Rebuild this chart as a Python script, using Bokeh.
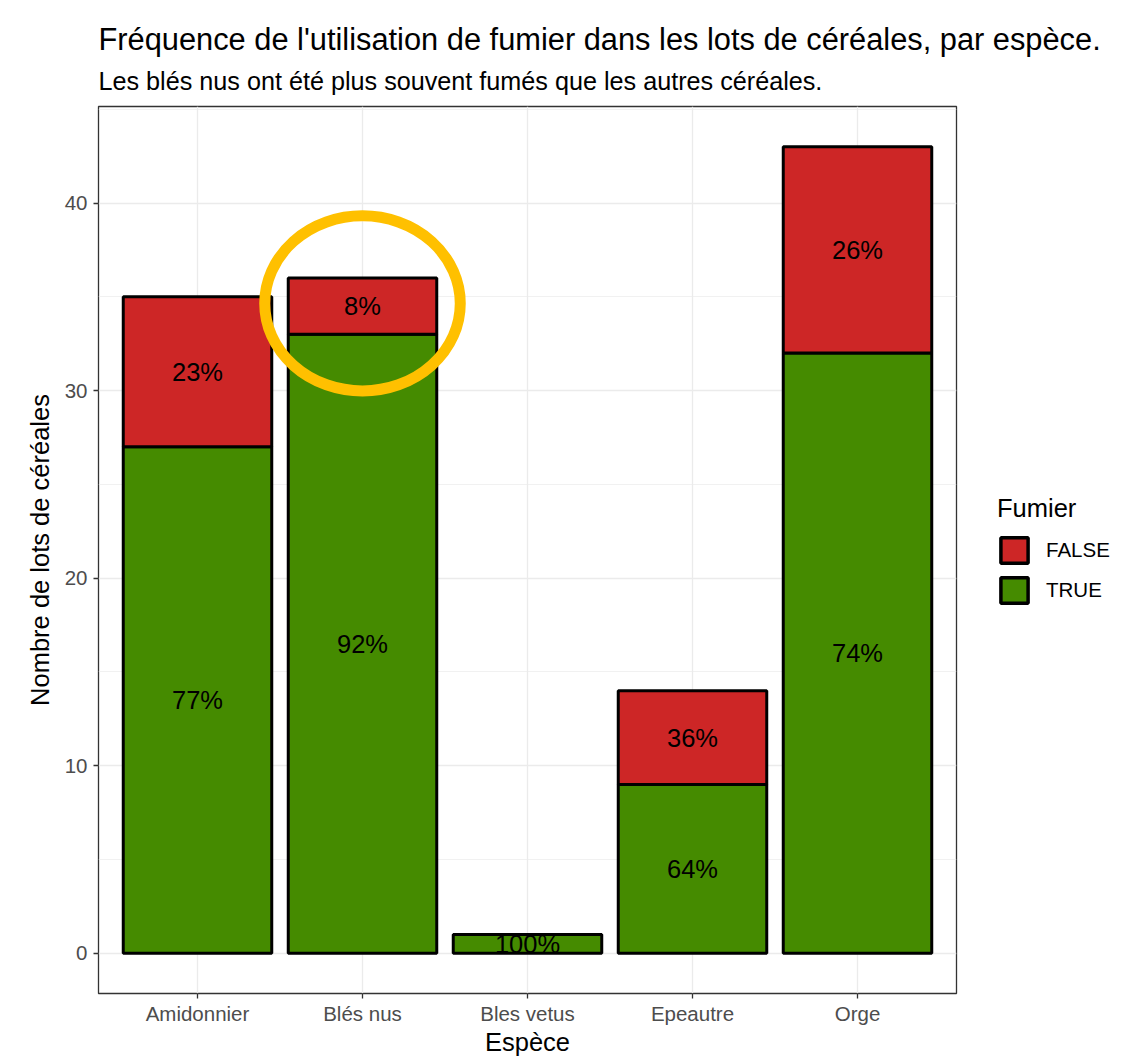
from bokeh.plotting import figure
from bokeh.layouts import row, column
from bokeh.models import (ColumnDataSource, FactorRange, Range1d, FixedTicker,
                          Legend, LegendItem, Title)
from bokeh.core.properties import value
from bokeh.embed import file_html
from bokeh.resources import INLINE

# ---- data ----
species = ["Amidonnier", "Blés nus", "Bles vetus", "Epeautre", "Orge"]
n_true = [27, 33, 1, 9, 32]
n_false = [8, 3, 0, 5, 11]
y_ticks = [0, 10, 20, 30, 40]
y_minor = [5, 15, 25, 35, 45]
legend_labels = ["FALSE", "TRUE"]

title_text = "Fréquence de l'utilisation de fumier dans les lots de céréales, par espèce."
subtitle_text = "Les blés nus ont été plus souvent fumés que les autres céréales."
x_title = "Espèce"
y_title = "Nombre de lots de céréales"
legend_title = "Fumier"

# highlight ellipse around "Blés nus"
hl_cat = "Blés nus"
hl_y = 34.65
hl_w = 1.185
hl_h = 9.34

FONT = "Liberation Sans"
RED = "#CD2626"
GREEN = "#458B00"
W, H = 1125, 1058
HEAD_H = 105
MAIN_W = 958

totals = [t + f for t, f in zip(n_true, n_false)]

src_true = ColumnDataSource(dict(
    x=species, bottom=[0] * len(species), top=n_true,
    mid=[t / 2 for t in n_true],
    lab=[f"{round(100 * t / s)}%" for t, s in zip(n_true, totals)],
))
fx, fb, ft, fm, fl = [], [], [], [], []
for sp, t, f, s in zip(species, n_true, n_false, totals):
    if f > 0:
        fx.append(sp); fb.append(t); ft.append(t + f); fm.append(t + f / 2)
        fl.append(f"{round(100 * f / s)}%")
src_false = ColumnDataSource(dict(x=fx, bottom=fb, top=ft, mid=fm, lab=fl))

# ---------- header with title and subtitle ----------
head = figure(width=W, height=HEAD_H, x_axis_type=None, y_axis_type=None,
              output_backend="svg", toolbar_location=None,
              min_border_left=98, min_border_right=0, min_border_top=103,
              min_border_bottom=0)
head.title = None
head.outline_line_color = None
head.background_fill_color = "white"
head.border_fill_color = "white"
head.add_layout(Title(text=subtitle_text, text_font=FONT,
                      text_font_size="25.2px", text_font_style="normal",
                      text_color="black", align="left", offset=0,
                      standoff=17), "above")
head.add_layout(Title(text=title_text, text_font=FONT,
                      text_font_size="30.8px", text_font_style="normal",
                      text_color="black", align="left", offset=0,
                      standoff=0), "above")

# ---------- main plot ----------
p = figure(
    width=MAIN_W, height=H - HEAD_H,
    x_range=FactorRange(factors=species, range_padding=0.1,
                        range_padding_units="absolute"),
    y_range=Range1d(-2.15, 45.15),
    output_backend="svg", toolbar_location=None,
    min_border_left=98, min_border_right=2,
    min_border_top=1, min_border_bottom=62,
)
p.title = None
p.background_fill_color = "white"
p.border_fill_color = "white"
p.outline_line_color = "#333333"
p.outline_line_width = 1.3

p.xgrid.grid_line_color = "#EBEBEB"
p.xgrid.grid_line_width = 1.3
p.ygrid.grid_line_color = "#EBEBEB"
p.ygrid.grid_line_width = 1.3
p.ygrid.minor_grid_line_color = "#EBEBEB"
p.ygrid.minor_grid_line_width = 0.7

p.yaxis.ticker = FixedTicker(ticks=y_ticks, minor_ticks=y_minor)

for ax in (p.xaxis[0], p.yaxis[0]):
    ax.axis_line_color = None
    ax.major_tick_line_color = "#333333"
    ax.major_tick_line_width = 1.3
    ax.major_tick_out = 5
    ax.major_tick_in = 0
    ax.minor_tick_line_color = None
    ax.major_label_text_font = FONT
    ax.major_label_text_font_size = "20.5px"
    ax.major_label_text_color = "#4D4D4D"
    ax.axis_label_text_font = FONT
    ax.axis_label_text_font_size = "25.5px"
    ax.axis_label_text_font_style = "normal"
    ax.axis_label_text_color = "black"

p.xaxis.axis_label = x_title
p.yaxis.axis_label = y_title
p.xaxis.major_label_standoff = 3
p.xaxis.axis_label_standoff = 0
p.yaxis.major_label_standoff = 6
p.yaxis.axis_label_standoff = 8

p.vbar(x="x", bottom="bottom", top="top", width=0.9, source=src_true,
       fill_color=GREEN, line_color="black", line_width=3)
p.vbar(x="x", bottom="bottom", top="top", width=0.9, source=src_false,
       fill_color=RED, line_color="black", line_width=3)

for src in (src_true, src_false):
    p.text(x="x", y="mid", text="lab", source=src, text_align="center",
           text_baseline="middle", text_font=value(FONT),
           text_font_size="25.5px", text_color="black")

p.ellipse(x=[hl_cat], y=[hl_y], width=hl_w, height=hl_h, fill_color=None,
          line_color="#FFC000", line_width=11)

# ---------- legend panel ----------
lp = figure(width=W - MAIN_W, height=H - HEAD_H, x_axis_type=None,
            y_axis_type=None, x_range=Range1d(0, 1), y_range=Range1d(0, 1),
            output_backend="svg", toolbar_location=None, min_border=0)
lp.title = None
lp.outline_line_color = None
lp.background_fill_color = "white"
lp.border_fill_color = "white"
key_src = ColumnDataSource(dict(x=[0], top=[0]))
k_false = lp.vbar(x="x", top="top", width=0.5, source=key_src,
                  fill_color=RED, line_color="black", line_width=3.5,
                  visible=False)
k_true = lp.vbar(x="x", top="top", width=0.5, source=key_src,
                 fill_color=GREEN, line_color="black", line_width=3.5,
                 visible=False)
legend = Legend(
    items=[LegendItem(label=legend_labels[0], renderers=[k_false]),
           LegendItem(label=legend_labels[1], renderers=[k_true])],
    title=legend_title, location=(39, 387), orientation="vertical",
    glyph_width=34, glyph_height=32, label_standoff=15, spacing=8,
    padding=0, margin=0, border_line_color=None, background_fill_alpha=0,
    inactive_fill_alpha=0,
    title_text_font=FONT, title_text_font_size="25.5px",
    title_text_font_style="normal", title_standoff=11,
    title_text_color="black",
    label_text_font=FONT, label_text_font_size="20.5px",
    label_text_color="black",
)
lp.add_layout(legend, "center")

layout = column(head, row(p, lp, spacing=0), spacing=0)
open("out.html", "w").write(file_html(layout, INLINE))
